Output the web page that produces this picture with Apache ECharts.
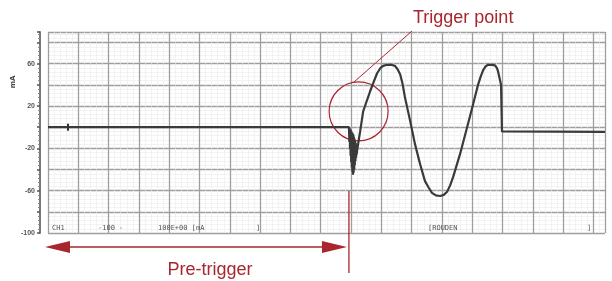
<!DOCTYPE html>
<html><head><meta charset="utf-8">
<script src="https://cdn.jsdelivr.net/npm/echarts@6/dist/echarts.min.js"></script>
<style>html,body{margin:0;padding:0;background:#fff}#c{width:612px;height:281px}</style>
</head><body><div id="c"></div>
<script>
// time in grid divisions, current in mA
const timeDiv = [0, 9.93, 9.945, 9.955, 9.965, 9.975, 9.985, 9.995, 10.005, 10.015, 10.025, 10.035, 10.045, 10.055, 10.065, 10.075,
  10.085, 10.095, 10.105, 10.115, 10.125, 10.135, 10.145, 10.155, 10.165, 10.175, 10.185, 10.2,
  10.3, 10.4, 10.52, 10.63, 10.75, 10.86, 10.97, 11.06, 11.19, 11.32, 11.45, 11.53, 11.62, 11.7, 11.78, 11.95, 12.11, 12.28,
  12.44, 12.56, 12.67, 12.8, 12.94, 13.06, 13.17, 13.27, 13.37, 13.6, 13.83, 14.03, 14.19, 14.28, 14.36, 14.44, 14.52, 14.64,
  14.75, 14.81, 14.85, 14.95, 14.98, 18.38];
const current = [0, 0, -14, -1, -20, -2, -27, -3, -33, -4, -38, -5, -42, -6, -45, -7,
  -43, -9, -40, -11, -36, -13, -32, -15, -29, -17, -26, -22,
  -4, 15, 25, 34, 43, 51, 56, 58, 59, 59, 58, 55, 50, 41, 28, 6, -16, -35,
  -51, -57, -62, -64.5, -65, -64, -61, -55, -47, -25, 0, 22, 40, 48, 54, 57.5, 59, 59,
  58.5, 56, 53, 40, -4, -4.4];
const yTickLabels = {'-100': '-100', '-60': '-60', '-20': '-20', '20': '20', '60': '60'};
const triggerTime = 9.93;
const channelMarker = [0.66, 0];
const footerTexts = ['CH1', '-100 -', '100E+00 [mA', ']', '[ROUDEN', ']'];
const footerX = [52, 98, 158, 256, 428, 587];

const red = '#a8262e';
const chart = echarts.init(document.getElementById('c'), null, {renderer: 'canvas'});
const gridCol = '#9e9e9e';
chart.setOption({
  animation: false,
  grid: {left: 48, top: 32, width: 557, height: 201},
  xAxis: {
    type: 'value', min: 0, max: 18.38, interval: 1,
    axisLine: {show: false}, axisTick: {show: false}, axisLabel: {show: false},
    splitLine: {show: true, lineStyle: {color: gridCol, width: 1.3}},
    minorTick: {show: false, splitNumber: 5},
    minorSplitLine: {show: true, lineStyle: {color: '#ebebeb', width: 0.6}}
  },
  yAxis: {
    type: 'value', min: -100, max: 90, interval: 20, offset: 8,
    axisLine: {show: true, onZero: false, lineStyle: {color: '#777', width: 2}},
    axisTick: {show: true, length: 3, inside: false, lineStyle: {color: '#555', width: 1.5}},
    minorTick: {show: true, splitNumber: 5, length: 2, lineStyle: {color: '#888'}},
    axisLabel: {fontSize: 7, fontWeight: 'bold', color: '#555', margin: 5,
      formatter: v => yTickLabels[String(v)] || ''},
    splitLine: {show: true, lineStyle: {color: gridCol, width: 1.3}},
    minorSplitLine: {show: true, lineStyle: {color: '#ebebeb', width: 0.6}}
  },
  series: [{
    type: 'line', showSymbol: false, symbol: 'none',
    data: timeDiv.map((t, i) => [t, current[i]]),
    lineStyle: {color: '#3a3a3a', width: 2.2},
    markPoint: {
      symbol: 'rect', symbolSize: [2, 7], silent: true,
      itemStyle: {color: '#333'}, label: {show: false},
      data: [{coord: channelMarker}]
    }
  }]
});

const trig = chart.convertToPixel({gridIndex: 0}, [triggerTime, 0]);
const circ = chart.convertToPixel({gridIndex: 0}, [10.25, 15]);
const bottomY = chart.convertToPixel({gridIndex: 0}, [0, -100])[1];
const left = chart.convertToPixel({gridIndex: 0}, [0, 0])[0];
const arrowY = 247;
const g = [];
footerTexts.forEach((t, i) => g.push({type: 'text', left: footerX[i], top: bottomY - 8,
  style: {text: t, font: '7px "DejaVu Sans Mono"', fill: '#555'}}));
g.push({type: 'circle', shape: {cx: circ[0], cy: circ[1], r: 29.5}, style: {fill: 'none', stroke: red, lineWidth: 1.2}});
g.push({type: 'line', shape: {x1: circ[0] - 5, y1: circ[1] - 29, x2: 412, y2: 31}, style: {stroke: red, lineWidth: 1}});
g.push({type: 'text', x: 413, y: 27, style: {text: 'Trigger point', font: '18px "Liberation Sans", Arial, sans-serif', fill: red, textVerticalAlign: 'bottom'}});
g.push({type: 'line', shape: {x1: trig[0], y1: 191, x2: trig[0], y2: 273}, style: {stroke: red, lineWidth: 1.3}});
g.push({type: 'line', shape: {x1: left + 10, y1: arrowY, x2: trig[0] - 12, y2: arrowY}, style: {stroke: red, lineWidth: 1.5}});
g.push({type: 'polygon', shape: {points: [[left - 3, arrowY], [left + 22, arrowY - 6], [left + 22, arrowY + 6]]}, style: {fill: red}});
g.push({type: 'polygon', shape: {points: [[trig[0] - 2, arrowY], [trig[0] - 27, arrowY - 6], [trig[0] - 27, arrowY + 6]]}, style: {fill: red}});
g.push({type: 'text', x: 210, y: 270, style: {text: 'Pre-trigger', font: '18px "Liberation Sans", Arial, sans-serif', fill: red, textAlign: 'center', textVerticalAlign: 'middle'}});
g.push({type: 'text', x: 13, y: 82, rotation: Math.PI / 2, style: {text: 'mA', font: 'bold 7px "DejaVu Sans"', fill: '#444', textAlign: 'center', textVerticalAlign: 'middle'}});
chart.setOption({graphic: g});
</script>
</body></html>
